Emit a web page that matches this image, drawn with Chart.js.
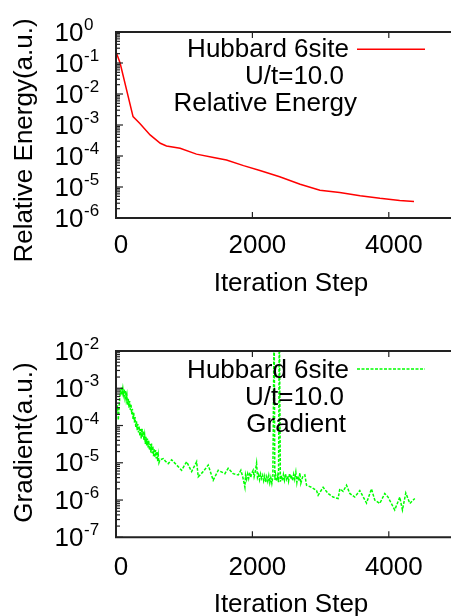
<!DOCTYPE html>
<html><head><meta charset="utf-8">
<script src="https://cdn.jsdelivr.net/npm/chart.js@4"></script>
<style>html,body{margin:0;padding:0;overflow:hidden;background:#fff;width:451px;height:616px}canvas{display:block}</style>
</head><body>
<canvas id="c1" width="460" height="308"></canvas>
<canvas id="c2" width="460" height="308"></canvas>
<script>
// ---- data ----
const energySteps = [0,60,250,350,500,650,740,940,1180,1430,1620,1870,2110,2400,2700,2990,3280,3580,3870,4160,4370];
const energyValues = [0.23,0.1,1.86e-3,1.12e-3,4.8e-4,2.57e-4,2.1e-4,1.78e-4,1.15e-4,8.9e-5,7.4e-5,4.9e-5,3.4e-5,2.14e-5,1.23e-5,7.9e-6,6.6e-6,5.2e-6,4.3e-6,3.7e-6,3.4e-6];
const gradSteps = [
  0,10,22,34,45,55,65,75,85,92,
  100,110,120,130,140,150,160,170,180,190,200,210,220,230,240,250,260,270,280,290,
  300,310,320,330,340,350,360,370,380,390,400,410,420,430,440,450,460,470,480,490,
  500,510,520,530,540,550,560,570,580,590,600,610,620,630,645,
  693,725,766,816,889,962,1036,1109,1182,1206,1279,1352,1425,1499,1597,1645,1718,1792,1831,1861,1890,
  1900,1915,1930,1945,1960,1975,1990,2011,2025,2040,2061,2075,2090,2105,2120,2135,2150,2165,2180,2195,
  2210,2225,2240,2255,2270,2285,2300,2319,2329,2340,2355,2370,2383,2395,2410,2425,2440,2455,2470,2485,
  2500,2515,2530,2545,2560,2575,2590,2605,2620,2637,2652,2666,2680,2696,2710,2740,2769,2794,
  2867,2940,2964,3037,3110,3183,3257,3282,3330,3380,3428,3501,3575,3673,3746,3794,3868,3941,3989,4087,4161,4200,4249,4308,4381];
const gradValues = [
  4.8e-4,2.2e-4,3.5e-4,1.4e-4,3.0e-4,5.5e-4,8.0e-4,6.5e-4,1.05e-3,8e-4,
  1.0e-3,7.0e-4,9.5e-4,6.0e-4,8.5e-4,5.0e-4,6.5e-4,3.6e-4,5.2e-4,3.0e-4,4.5e-4,2.6e-4,3.8e-4,2.0e-4,2.8e-4,1.5e-4,2.2e-4,1.2e-4,1.7e-4,9.0e-5,
  1.3e-4,7.5e-5,1.1e-4,6.5e-5,9.5e-5,5.2e-5,8.0e-5,4.5e-5,8.5e-5,5.0e-5,7.0e-5,4.0e-5,5.5e-5,3.2e-5,5.0e-5,2.9e-5,4.5e-5,2.6e-5,4.0e-5,2.2e-5,
  3.2e-5,1.9e-5,3.3e-5,1.8e-5,2.8e-5,1.5e-5,2.4e-5,1.4e-5,2.2e-5,1.3e-5,2.0e-5,1.1e-5,1.6e-5,1.0e-5,1.2e-5,
  1.3e-5,1.1e-5,9.5e-6,1.2e-5,8.7e-6,6.3e-6,1.07e-5,5.8e-6,1.07e-5,4.2e-6,5.8e-6,8.7e-6,3.4e-6,6.3e-6,5.1e-6,7.1e-6,5.1e-6,4.7e-6,6.3e-6,4e-6,2.2e-6,
  4.7e-6,3.6e-6,5.0e-6,3.8e-6,5.5e-6,4.0e-6,5.2e-6,6.3e-6,4.2e-6,5.5e-6,9.8e-6,4.0e-6,4.8e-6,3.5e-6,5.0e-6,3.8e-6,4.6e-6,3.3e-6,4.4e-6,3.0e-6,
  4.2e-6,3.2e-6,4.5e-6,2.9e-6,4.0e-6,2.8e-6,4.2e-6,1e-1,3.5e-6,4.8e-6,3.2e-6,4.5e-6,3.0e-6,1e-1,3.1e-6,4.6e-6,3.3e-6,4.8e-6,3.4e-6,5.0e-6,
  3.6e-6,4.4e-6,3.2e-6,5.2e-6,3.8e-6,4.6e-6,3.3e-6,4.9e-6,3.6e-6,5.6e-6,3.0e-6,4.5e-6,3.3e-6,5.3e-6,2.8e-6,4.4e-6,4.7e-6,2.5e-6,
  2.2e-6,1.8e-6,1.35e-6,2.2e-6,1.5e-6,1.2e-6,1.1e-6,2e-6,1.7e-6,2.5e-6,1.5e-6,1.2e-6,1.8e-6,8.3e-7,2e-6,1e-6,8.1e-7,1.5e-6,1.2e-6,5.4e-7,1.2e-6,5.4e-7,1.55e-6,8.1e-7,1.1e-6];
const xTickValues = [0,2000,4000];
const energyDecades = [0,-1,-2,-3,-4,-5,-6];
const gradDecades = [-2,-3,-4,-5,-6,-7];
const xTitle = 'Iteration Step';
const energyKey = ['Hubbard 6site','U/t=10.0','Relative Energy'];
const gradKey = ['Hubbard 6site','U/t=10.0','Gradient'];

const FONT = '"Liberation Sans", Arial, Helvetica, sans-serif';
function txt(ctx,s,x,y,size,align,rot){
  ctx.save();ctx.font=size+'px '+FONT;ctx.fillStyle='#000';ctx.textAlign=align;ctx.textBaseline='alphabetic';
  ctx.translate(x,y);if(rot)ctx.rotate(rot);ctx.fillText(s,0,0);ctx.restore();
}
function makePlugin(o){
  return {id:'deco'+o.id, afterDraw(chart){
    const ctx=chart.ctx, a=chart.chartArea, xs=chart.scales.x, ys=chart.scales.y;
    ctx.save();
    ctx.strokeStyle='#222';ctx.lineWidth=2;
    ctx.beginPath();ctx.moveTo(a.right,a.top);ctx.lineTo(a.left,a.top);ctx.lineTo(a.left,a.bottom);ctx.lineTo(a.right,a.bottom);ctx.stroke();
    ctx.lineWidth=1.2;
    o.decades.forEach((d,i)=>{
      const y=ys.getPixelForValue(Math.pow(10,d));
      ctx.beginPath();ctx.moveTo(a.left,y);ctx.lineTo(a.left+7,y);ctx.stroke();
      if(i<o.decades.length-1){
        for(let m=2;m<10;m++){
          const ym=ys.getPixelForValue(m*Math.pow(10,d-1));
          ctx.beginPath();ctx.moveTo(a.left,ym);ctx.lineTo(a.left+4,ym);ctx.stroke();
        }
      }
      txt(ctx,'10',83.5,y+8.7,26,'right');
      txt(ctx,String(d),84,y-2,17,'left');
    });
    xTickValues.forEach(v=>{
      const x=xs.getPixelForValue(v);
      ctx.beginPath();ctx.moveTo(x,a.bottom);ctx.lineTo(x,a.bottom-6);ctx.moveTo(x,a.top);ctx.lineTo(x,a.top+6);ctx.stroke();
      txt(ctx,String(v),x+5,o.xTickBase,26,'center');
    });
    txt(ctx,xTitle,291,o.xTitleBase,26,'center');
    txt(ctx,o.yTitle,31.7,o.yTitleCenter,26,'center',-Math.PI/2);
    o.key.forEach((k,i)=>txt(ctx,k,o.keyX[i],o.keyY[i],26,'right'));
    ctx.strokeStyle=o.color;ctx.lineWidth=o.lw;ctx.setLineDash(o.dash);
    ctx.beginPath();ctx.moveTo(357,o.sampleY);ctx.lineTo(425,o.sampleY);ctx.stroke();
    ctx.restore();
  }};
}
function make(id,steps,vals,o){
  const data=steps.map((s,i)=>({x:s,y:vals[i]}));
  new Chart(document.getElementById(id),{
    type:'line',
    data:{datasets:[{data,borderColor:o.color,borderWidth:o.lw,borderDash:o.dash,pointRadius:0,tension:0,fill:false,clip:0}]},
    options:{responsive:false,animation:false,devicePixelRatio:1,
      layout:{padding:o.pad},
      plugins:{legend:{display:false},tooltip:{enabled:false}},
      scales:{x:{type:'linear',min:0,max:5000,display:false},
              y:{type:'logarithmic',min:o.ymin,max:o.ymax,display:false}}},
    plugins:[makePlugin(o)]
  });
}
make('c1',energySteps,energyValues,{id:1,color:'#ff0000',lw:1.5,dash:[],pad:{left:116,top:32,right:3,bottom:90},
  ymin:1e-6,ymax:1,decades:energyDecades,xTickBase:253,xTitleBase:291,yTitle:'Relative Energy(a.u.)',yTitleCenter:140.5,
  key:energyKey,keyX:[349,344,357],keyY:[57.3,84,111],sampleY:49.3});
make('c2',gradSteps,gradValues,{id:2,color:'#00ff00',lw:1.5,dash:[3,1.5],pad:{left:116,top:43,right:3,bottom:78.7},
  ymin:1e-7,ymax:1e-2,decades:gradDecades,xTickBase:575-308,xTitleBase:611.5-308,yTitle:'Gradient(a.u.)',yTitleCenter:442.5-308,
  key:gradKey,keyX:[349,344,346],keyY:[378.3-308,405-308,431.7-308],sampleY:369-308});
</script>
</body></html>
